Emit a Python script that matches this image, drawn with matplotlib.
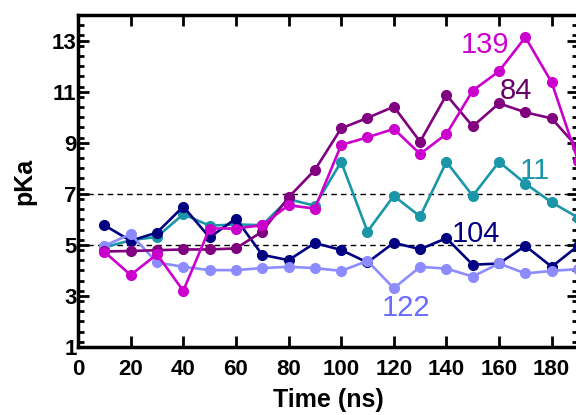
import numpy as np
import matplotlib
matplotlib.use("Agg")
import matplotlib.pyplot as plt
from matplotlib.ticker import MultipleLocator

plt.rcParams['font.family'] = ['Liberation Sans', 'DejaVu Sans']

# time points (ns)
time_ns = [10, 20, 30, 40, 50, 60, 70, 80, 90, 100,
           110, 120, 130, 140, 150, 160, 170, 180, 190]

# pKa per residue
pka_11 = [4.9, 5.18, 5.31, 6.2, 5.75, 5.8, 5.77, 6.79, 6.53, 8.25,
          5.52, 6.92, 6.11, 8.25, 6.92, 8.25, 7.40, 6.66, 6.07]
pka_104 = [5.77, 5.16, 5.48, 6.50, 5.29, 6.03, 4.61, 4.40, 5.07, 4.80,
           4.31, 5.08, 4.83, 5.26, 4.22, 4.27, 4.96, 4.14, 4.96]
pka_122 = [4.96, 5.42, 4.31, 4.14, 4.01, 4.01, 4.09, 4.14, 4.09, 3.98,
           4.37, 3.30, 4.14, 4.07, 3.76, 4.27, 3.88, 3.98, 4.05]
pka_84 = [4.74, 4.76, 4.79, 4.82, 4.82, 4.86, 5.52, 6.86, 7.93, 9.56,
          9.97, 10.41, 9.04, 10.87, 9.64, 10.54, 10.19, 9.95, 8.8]
pka_139 = [4.73, 3.82, 4.63, 3.20, 5.64, 5.64, 5.77, 6.55, 6.42, 8.91,
           9.21, 9.54, 8.56, 9.34, 11.04, 11.80, 13.13, 11.36, 8.3]

series = [
    ("11", pka_11, '#1a96a8', '#1a96a8', (173.4, 7.9)),
    ("104", pka_104, '#000080', '#000080', (151.4, 5.43)),
    ("122", pka_122, '#8c8cff', '#6a6aff', (124.8, 2.53)),
    ("84", pka_84, '#800080', '#660066', (166.5, 11.04)),
    ("139", pka_139, '#cc00cc', '#cc00cc', (154.8, 12.84)),
]

fig = plt.figure(figsize=(5.76, 4.15), dpi=100)
ax = fig.add_axes([78/576, 68/415, 500/576, 332/415])

ax.axhline(5, color='black', ls='--', lw=1.0, dashes=(4, 3), zorder=1)
ax.axhline(7, color='black', ls='--', lw=1.0, dashes=(4, 3), zorder=1)

for name, vals, col, tcol, pos in series:
    ax.plot(time_ns, vals, color=col, lw=1.9, marker='o', ms=7, zorder=3)
    ax.text(pos[0], pos[1], name, color=tcol, fontsize=21, ha='center', va='center')

ax.set_xlim(0, 190)
ax.set_ylim(1, 14)
ax.xaxis.set_major_locator(MultipleLocator(20))
ax.yaxis.set_minor_locator(MultipleLocator(0.4))
ax.set_yticks([1, 3, 5, 7, 9, 11, 13])

ax.tick_params(which='both', direction='in', top=True, right=True, width=2)
ax.tick_params(which='major', length=8, labelsize=16)
ax.tick_params(which='minor', length=4)
ax.tick_params(axis='x', pad=8.5)
ax.tick_params(axis='y', pad=1)
for lab in ax.get_xticklabels() + ax.get_yticklabels():
    lab.set_fontweight('bold')
for sp in ax.spines.values():
    sp.set_linewidth(2.5)

ax.set_xlabel('Time (ns)', fontsize=18, fontweight='bold', labelpad=6)
ax.set_ylabel('pKa', fontsize=18, fontweight='bold', labelpad=11)

fig.savefig('out.png', dpi=100)
